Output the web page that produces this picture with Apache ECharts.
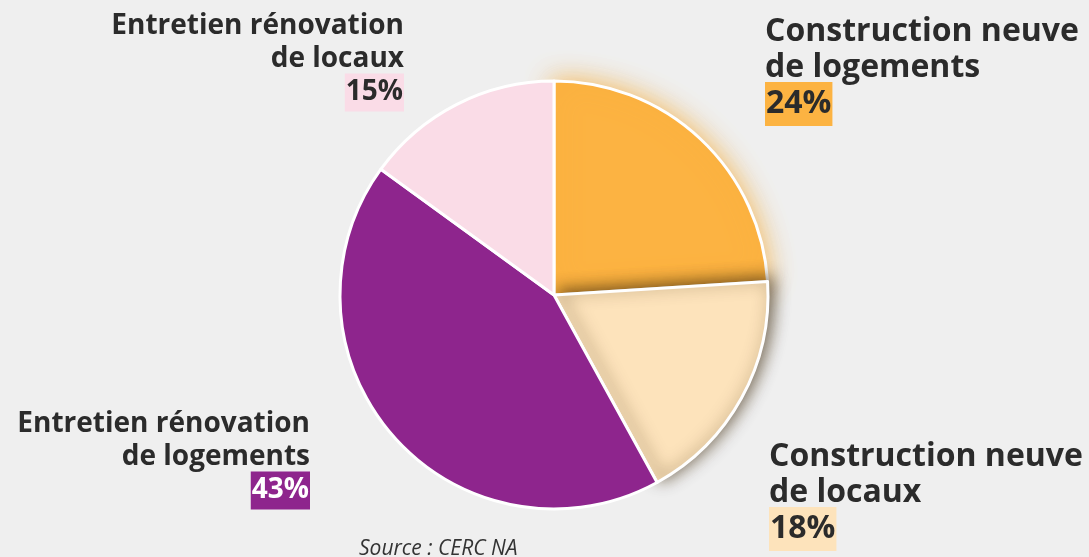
<!DOCTYPE html>
<html>
<head>
<meta charset="utf-8">
<script src="https://cdn.jsdelivr.net/npm/echarts@6/dist/echarts.min.js"></script>
<style>
  html, body { margin: 0; padding: 0; background: #efefef; }
  #chart { width: 1089px; height: 557px; }
</style>
</head>
<body>
<div id="chart"></div>
<script>
  // parts of the building activity (%)
  var categories = ['Construction neuve\nde logements', 'Construction neuve\nde locaux', 'Entretien rénovation\nde logements', 'Entretien rénovation\nde locaux'];
  var values = [24, 18, 43, 15];
  var colors = ['#fcb342', '#fde3bb', '#8e258d', '#fadce7'];
  var pctTextColors = ['#2b2b2b', '#2b2b2b', '#ffffff', '#2b2b2b'];

  // where each label sits: [x, y, align, fontSize, lineHeight, pct box height]
  var labelSpots = [
    [765, 14, 'left', 32, 36, 42],
    [769, 439, 'left', 32, 36, 42],
    [310, 408, 'right', 28, 33, 36],
    [404, 10, 'right', 28, 33, 36]
  ];

  var chart = echarts.init(document.getElementById('chart'));

  var data = categories.map(function (name, i) {
    var spot = labelSpots[i];
    var item = {
      name: name,
      value: values[i],
      itemStyle: { color: colors[i] },
      label: {
        rich: {
          n: { fontSize: spot[3], lineHeight: spot[4], fontWeight: 'bold', color: '#2b2b2b', fontFamily: 'Open Sans' },
          p: {
            fontSize: spot[3], lineHeight: spot[4], height: spot[5], fontWeight: 'bold', fontFamily: 'Open Sans',
            color: pctTextColors[i], backgroundColor: colors[i], padding: [1, 1, 1, 1]
          }
        }
      }
    };
    if (i === 0) {
      item.itemStyle.shadowBlur = 26;
      item.itemStyle.shadowColor = 'rgba(245,170,50,0.8)';
    }
    if (i === 1) {
      item.itemStyle.shadowBlur = 16;
      item.itemStyle.shadowOffsetX = 4;
      item.itemStyle.shadowOffsetY = -3;
      item.itemStyle.shadowColor = 'rgba(60,40,10,0.7)';
    }
    return item;
  });

  var option = {
    backgroundColor: '#efefef',
    animation: false,
    title: {
      text: 'Source : CERC NA',
      left: 354,
      top: 534,
      textStyle: { fontSize: 21, fontStyle: 'italic', fontWeight: 'normal', color: '#333', fontFamily: 'Open Sans' }
    },
    series: [
      {
        type: 'pie',
        center: [554, 295],
        radius: 214,
        startAngle: 90,
        clockwise: true,
        data: data,
        itemStyle: { borderColor: '#ffffff', borderWidth: 3 },
        emphasis: { disabled: true },
        labelLine: { show: false },
        label: {
          show: true,
          overflow: 'none',
          formatter: function (p) {
            var lines = p.name.split('\n').map(function (l) { return '{n|' + l + '}'; });
            return lines.join('\n') + '\n{p|' + p.value + '%}';
          }
        },
        labelLayout: function (params) {
          var spot = labelSpots[params.dataIndex];
          return { x: spot[0], y: spot[1], align: spot[2], verticalAlign: 'top', hideOverlap: false };
        }
      }
    ]
  };

  chart.setOption(option);
</script>
</body>
</html>
